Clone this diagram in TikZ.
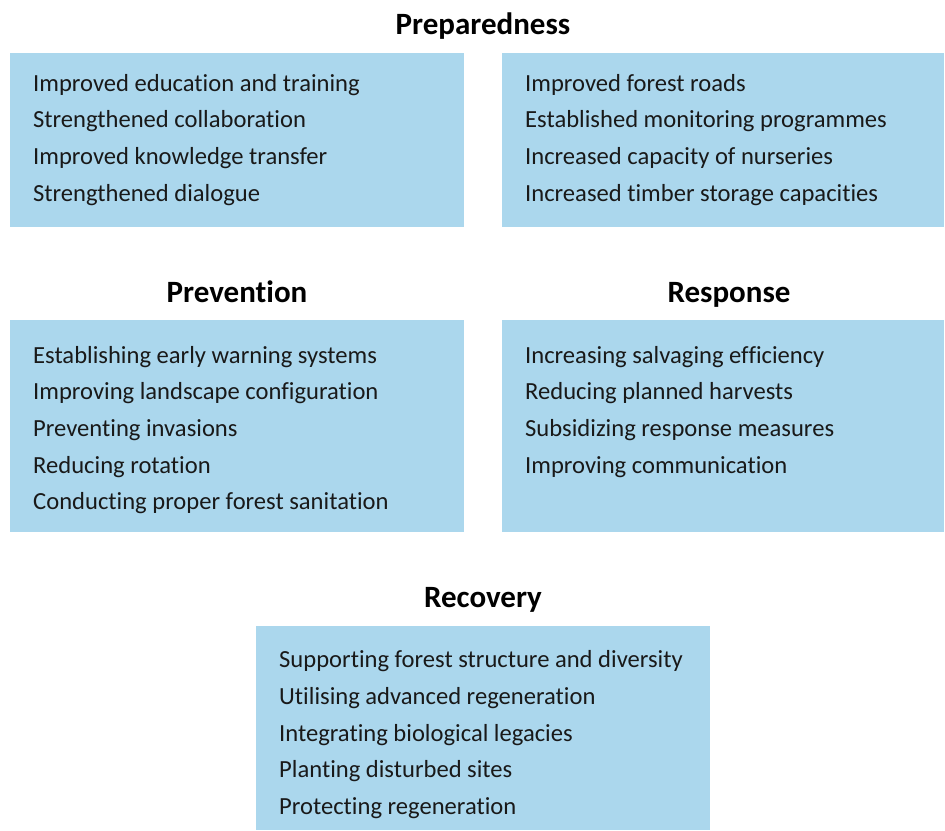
\documentclass[tikz,border=0pt]{standalone}
\usepackage{fontspec}
\setmainfont{Carlito}[Ligatures={NoCommon}]
\definecolor{boxblue}{HTML}{ABD7ED}
\begin{document}
\begin{tikzpicture}[x=1pt,y=-1pt,
  panel/.style={fill=boxblue,draw=none,inner sep=0pt,anchor=north west},
  title/.style={font=\fontsize{31}{36}\selectfont\bfseries,inner sep=0pt,anchor=base},
  item/.style={font=\fontsize{24.6}{28}\selectfont,anchor=base west,inner sep=0pt,text=black!90}]
\useasboundingbox (0,0) rectangle (945,830);
% panels
\node[panel,minimum width=454pt,minimum height=174pt] (p1) at (10,53) {};
\node[panel,minimum width=442pt,minimum height=174pt] (p2) at (502,53) {};
\node[panel,minimum width=454pt,minimum height=212pt] (p3) at (10,320) {};
\node[panel,minimum width=442pt,minimum height=212pt] (p4) at (502,320) {};
\node[panel,minimum width=454pt,minimum height=204pt] (p5) at (256,626) {};
% titles
\node[title] (t1) at (483,34) {Preparedness};
\node[title] (t2) at (237,302) {Prevention};
\node[title] (t3) at (729,302) {Response};
\node[title] (t4) at (483,607) {Recovery};
% preparedness left
\node[item] (a1) at (33,91) {Improved education and training};
\node[item] (a2) at (33,127) {Strengthened collaboration};
\node[item] (a3) at (33,164) {Improved knowledge transfer};
\node[item] (a4) at (33,201) {Strengthened dialogue};
% preparedness right
\node[item] (b1) at (525,91) {Improved forest roads};
\node[item] (b2) at (525,127) {Established monitoring programmes};
\node[item] (b3) at (525,164) {Increased capacity of nurseries};
\node[item] (b4) at (525,201) {Increased timber storage capacities};
% prevention
\node[item] (c1) at (33,363) {Establishing early warning systems};
\node[item] (c2) at (33,399) {Improving landscape configuration};
\node[item] (c3) at (33,436) {Preventing invasions};
\node[item] (c4) at (33,473) {Reducing rotation};
\node[item] (c5) at (33,509) {Conducting proper forest sanitation};
% response
\node[item] (d1) at (525,363) {Increasing salvaging efficiency};
\node[item] (d2) at (525,399) {Reducing planned harvests};
\node[item] (d3) at (525,436) {Subsidizing response measures};
\node[item] (d4) at (525,473) {Improving communication};
% recovery
\node[item] (e1) at (279,667) {Supporting forest structure and diversity};
\node[item] (e2) at (279,704) {Utilising advanced regeneration};
\node[item] (e3) at (279,741) {Integrating biological legacies};
\node[item] (e4) at (279,777) {Planting disturbed sites};
\node[item] (e5) at (279,814) {Protecting regeneration};
\end{tikzpicture}
\end{document}
